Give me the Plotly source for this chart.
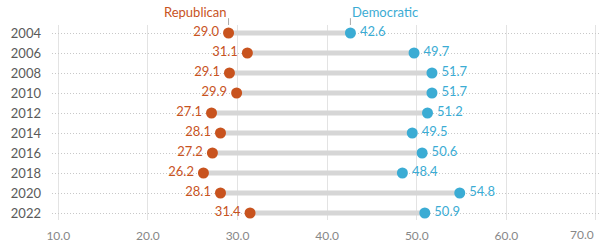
import plotly.graph_objects as go

years = [2004, 2006, 2008, 2010, 2012, 2014, 2016, 2018, 2020, 2022]
republican = [29.0, 31.1, 29.1, 29.9, 27.1, 28.1, 27.2, 26.2, 28.1, 31.4]
democratic = [42.6, 49.7, 51.7, 51.7, 51.2, 49.5, 50.6, 48.4, 54.8, 50.9]
x_ticks = [10, 20, 30, 40, 50, 60, 70]

REP = "#C8531E"
DEM = "#3BACD4"
FONT = "Lato, 'Open Sans', sans-serif"

bx, by = [], []
for y, r, d in zip(years, republican, democratic):
    bx += [r, d, None]
    by += [y, y, None]

fig = go.Figure()
fig.add_trace(go.Scatter(x=bx, y=by, mode="lines",
                         line=dict(color="#d6d6d6", width=5),
                         hoverinfo="skip", showlegend=False))
fig.add_trace(go.Scatter(x=republican, y=years, mode="markers+text",
                         marker=dict(color=REP, size=11),
                         text=[f"{v:.1f}\u2009" for v in republican],
                         textposition="middle left",
                         textfont=dict(color=REP, size=13, family=FONT),
                         showlegend=False, name="Republican"))
fig.add_trace(go.Scatter(x=democratic, y=years, mode="markers+text",
                         marker=dict(color=DEM, size=11),
                         text=[f"\u2009{v:.1f}" for v in democratic],
                         textposition="middle right",
                         textfont=dict(color=DEM, size=13, family=FONT),
                         showlegend=False, name="Democratic"))

fig.add_annotation(x=republican[0], y=1, xref="x", yref="paper",
                   text="Republican", showarrow=False, xanchor="right",
                   yanchor="bottom", yshift=3,
                   font=dict(color=REP, size=13, family=FONT))
fig.add_annotation(x=democratic[0], y=1, xref="x", yref="paper",
                   text="Democratic", showarrow=False, xanchor="left",
                   yanchor="bottom", yshift=3,
                   font=dict(color=DEM, size=13, family=FONT))
for v in (republican[0], democratic[0]):
    fig.add_shape(type="line", xref="x", yref="paper", x0=v, x1=v,
                  y0=1.0, y1=1.035, line=dict(color="#aaaaaa", width=1))

# last tick label is right-aligned to stay within the chart
fig.add_annotation(x=x_ticks[-1], y=0, xref="x", yref="paper",
                   text=f"{x_ticks[-1]:.1f}", showarrow=False,
                   xanchor="right", yanchor="top", yshift=-5,
                   font=dict(color="#888888", size=12, family=FONT))

fig.update_xaxes(range=[9.3, 70.45], tickvals=x_ticks,
                 ticktext=[f"{t:.1f}" for t in x_ticks[:-1]] + [""],
                 showgrid=True, gridcolor="#e3e3e3", gridwidth=1,
                 zeroline=False, showline=False, ticks="", automargin=False,
                 ticklabelstandoff=7,
                 tickfont=dict(color="#888888", size=12, family=FONT))
fig.update_yaxes(range=[2022.7, 2003.2], tickvals=years,
                 ticktext=[str(y) for y in years],
                 showgrid=True, gridcolor="#c8c8c8", griddash="1px,2px", gridwidth=1,
                 zeroline=False, showline=False, ticks="", ticklabelstandoff=10,
                 automargin=False,
                 tickfont=dict(color="#5a5a5a", size=13, family=FONT))
fig.update_layout(width=602, height=245,
                  margin=dict(l=52, r=2, t=25, b=25, autoexpand=False),
                  plot_bgcolor="white", paper_bgcolor="white",
                  font=dict(family=FONT))
fig.write_html("out.html", config={"displayModeBar": False},
               post_script="document.body.style.margin='0';document.body.style.overflow='hidden';")
